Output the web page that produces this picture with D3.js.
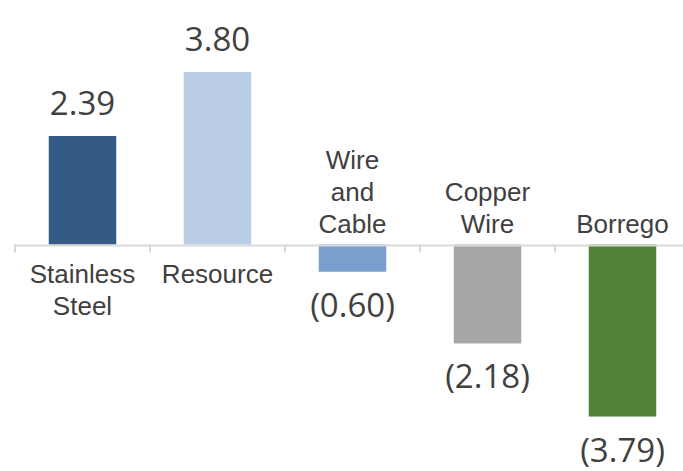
<!DOCTYPE html>
<html>
<head>
<meta charset="utf-8">
<script src="https://cdn.jsdelivr.net/npm/d3@7"></script>
<style>
  body { margin: 0; background: #fff; }
</style>
</head>
<body>
<svg id="chart" width="683" height="471"></svg>
<script>
// data
const categories = [
  ["Stainless", "Steel"],
  ["Resource"],
  ["Wire", "and", "Cable"],
  ["Copper", "Wire"],
  ["Borrego"]
];
const values = [2.39, 3.80, -0.60, -2.18, -3.79];
const valueLabels = ["2.39", "3.80", "(0.60)", "(2.18)", "(3.79)"];
const colors = ["#345a86", "#b9cde5", "#7a9fcf", "#a6a6a6", "#538135"];

const svg = d3.select("#chart");
const textColor = "#404040";

const x = d3.scaleBand()
  .domain(d3.range(values.length))
  .range([15, 690])
  .paddingInner(0.5)
  .paddingOuter(0.25);

// zero line at 244.5, 3.80 reaches 72
const y = d3.scaleLinear()
  .domain([0, 3.8])
  .range([244.5, 72]);

// bars
svg.selectAll("rect.bar")
  .data(values)
  .enter()
  .append("rect")
  .attr("class", "bar")
  .attr("x", (d, i) => x(i))
  .attr("width", x.bandwidth())
  .attr("y", d => Math.min(y(d), y(0)))
  .attr("height", d => Math.abs(y(d) - y(0)))
  .style("fill", (d, i) => colors[i]);

// axis line with ticks between categories
const step = x.step();
const edges = d3.range(values.length + 1).map(i => 15 + i * step);
svg.append("line")
  .attr("x1", 15).attr("x2", 683)
  .attr("y1", y(0) + 1).attr("y2", y(0) + 1)
  .style("stroke", "#d9d9d9").style("stroke-width", 2);
svg.selectAll("line.tick")
  .data(edges)
  .enter()
  .append("line")
  .attr("class", "tick")
  .attr("x1", d => d).attr("x2", d => d)
  .attr("y1", y(0)).attr("y2", y(0) + 8)
  .style("stroke", "#d9d9d9").style("stroke-width", 2);

// value labels
svg.selectAll("text.val")
  .data(values)
  .enter()
  .append("text")
  .attr("class", "val")
  .attr("x", (d, i) => x(i) + x.bandwidth() / 2)
  .attr("y", d => d >= 0 ? y(d) - 21 : y(d) + 45)
  .attr("text-anchor", "middle")
  .style("font-family", "'Open Sans', sans-serif")
  .style("font-size", "33px")
  .style("fill", textColor)
  .text((d, i) => valueLabels[i]);

// category labels: below axis for positive, above for negative
const lineH = 32;
categories.forEach((lines, i) => {
  const cx = x(i) + x.bandwidth() / 2;
  const t = svg.append("text")
    .attr("text-anchor", "middle")
    .style("font-family", "'Liberation Sans', Arial, sans-serif")
    .style("font-size", "26px")
    .style("fill", textColor);
  const firstY = values[i] >= 0 ? 283 : 233 - (lines.length - 1) * lineH;
  lines.forEach((s, j) => {
    t.append("tspan")
      .attr("x", cx)
      .attr("y", firstY + j * lineH)
      .text(s);
  });
});
</script>
</body>
</html>
